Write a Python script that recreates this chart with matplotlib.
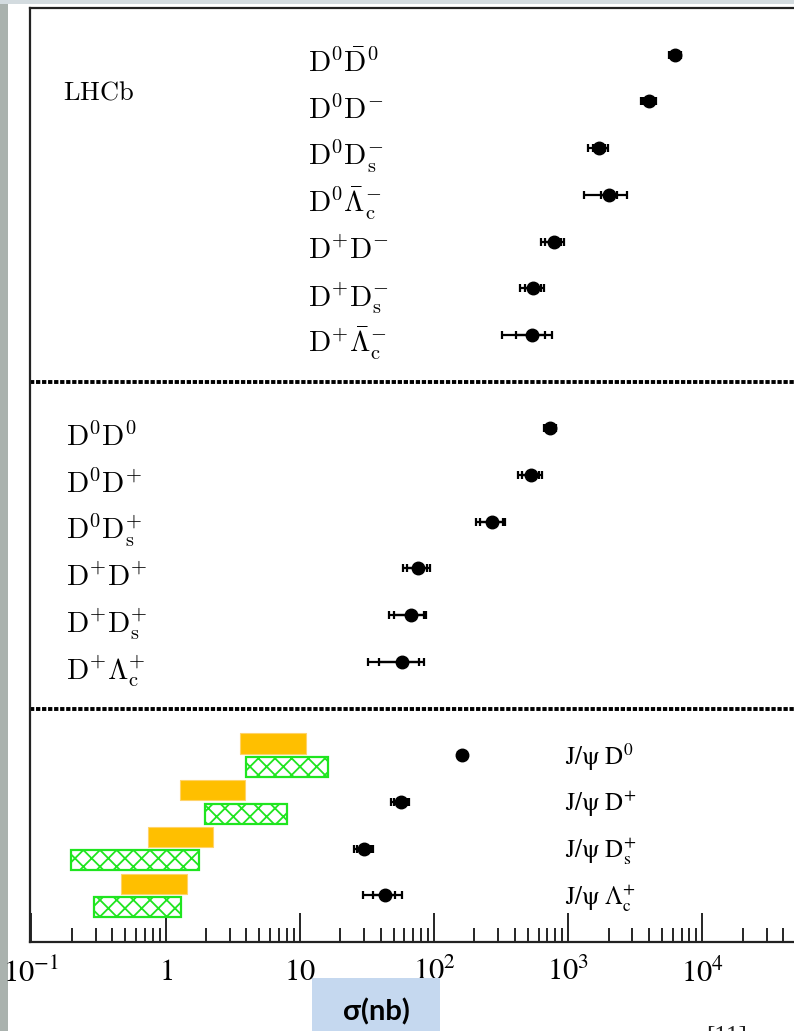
import numpy as np
import matplotlib
matplotlib.use("Agg")
import matplotlib.pyplot as plt
from matplotlib.patches import Rectangle
from matplotlib.ticker import LogLocator, NullFormatter
from matplotlib.transforms import blended_transform_factory

plt.rcParams['mathtext.fontset'] = 'stix'
plt.rcParams['hatch.linewidth'] = 1.3

#-----------------------------#
#       Cross sections (nb)   #
#-----------------------------#

# opposite-sign open charm pairs
os_labels = [r'$\mathrm{D^{0}\bar{D}^{0}}$', r'$\mathrm{D^{0}D^{-}}$', r'$\mathrm{D^{0}D_{s}^{-}}$',
             r'$\mathrm{D^{0}\bar{\Lambda}_{c}^{-}}$', r'$\mathrm{D^{+}D^{-}}$', r'$\mathrm{D^{+}D_{s}^{-}}$',
             r'$\mathrm{D^{+}\bar{\Lambda}_{c}^{-}}$']
os_sigma = [6270, 4000, 1700, 2020, 780, 548, 540]
os_err_in = [520, 400, 170, 270, 110, 75, 135]
os_err_tot = [650, 500, 290, 700, 150, 110, 220]

# same-sign open charm pairs
ss_labels = [r'$\mathrm{D^{0}D^{0}}$', r'$\mathrm{D^{0}D^{+}}$', r'$\mathrm{D^{0}D_{s}^{+}}$',
             r'$\mathrm{D^{+}D^{+}}$', r'$\mathrm{D^{+}D_{s}^{+}}$', r'$\mathrm{D^{+}\Lambda_{c}^{+}}$']
ss_sigma = [735, 530, 272, 76, 67, 58]
ss_err_in = [65, 80, 52, 12.7, 16.5, 19]
ss_err_tot = [80, 108, 65, 17.5, 20.5, 26]

# J/psi + open charm
jpsi_labels = [r'$\mathrm{J/\psi\ D^{0}}$', r'$\mathrm{J/\psi\ D^{+}}$',
               r'$\mathrm{J/\psi\ D_{s}^{+}}$', r'$\mathrm{J/\psi\ \Lambda_{c}^{+}}$']
jpsi_sigma = [161.5, 56.4, 30.2, 43.3]
jpsi_err_in = [6, 6, 3.5, 8]
jpsi_err_tot = [12, 8.5, 4.7, 14]

# theory predictions for J/psi + open charm (lower, upper edge)
pred1_lo = [3.60, 1.27, 0.734, 0.462]
pred1_hi = [11.1, 3.92, 2.26, 1.43]
pred2_lo = [3.95, 1.97, 0.196, 0.292]
pred2_hi = [16.1, 8.06, 1.78, 1.29]

tick_vals = [0.1, 1, 10, 100, 1000, 10000]
tick_labels = [r'$10^{-1}$', r'$1$', r'$10$', r'$10^{2}$', r'$10^{3}$', r'$10^{4}$']

#-----------------------------#
#            Plot             #
#-----------------------------#

W, H = 794, 1031
fig = plt.figure(figsize=(W / 100, H / 100), dpi=100)
fig.patch.set_facecolor('white')
ax = fig.add_axes([30 / W, 1 - 942 / H, 1 - 30 / W, (942 - 8) / H])

os_rows = np.arange(1, 8)
ss_rows = np.arange(9, 15)
jpsi_rows = np.arange(16, 20)


def draw_points(rows, sigma, err_in, err_tot):
    ax.errorbar(sigma, rows, xerr=err_tot, fmt='none', ecolor='black',
                elinewidth=1.6, capsize=3.2, capthick=1.6, zorder=3)
    ax.errorbar(sigma, rows, xerr=err_in, fmt='o', color='black', ms=9,
                elinewidth=1.6, capsize=3.2, capthick=1.6, zorder=4)


draw_points(os_rows, os_sigma, os_err_in, os_err_tot)
draw_points(ss_rows, ss_sigma, ss_err_in, ss_err_tot)
draw_points(jpsi_rows, jpsi_sigma, jpsi_err_in, jpsi_err_tot)

# prediction boxes
lo1, hi1 = np.array(pred1_lo), np.array(pred1_hi)
lo2, hi2 = np.array(pred2_lo), np.array(pred2_hi)
ax.barh(jpsi_rows - 0.25, hi1 - lo1, left=lo1, height=0.43,
        color='#ffbf00', edgecolor='#ffd36a', linewidth=0.8, zorder=2)
ax.barh(jpsi_rows + 0.25, hi2 - lo2, left=lo2, height=0.43,
        facecolor='white', edgecolor='#1fe51f', hatch='xx', linewidth=1.6, zorder=2)

# section separators
for ysep in [8, 15]:
    ax.axhline(ysep, color='black', lw=2.8, linestyle=(0, (1.1, 0.45)), zorder=1)

trans = blended_transform_factory(ax.transAxes, ax.transData)
for r, lab in zip(os_rows, os_labels):
    ax.text(0.3643, r + 0.38, lab, transform=trans, fontsize=21,
            math_fontfamily='cm', va='baseline')
for r, lab in zip(ss_rows, ss_labels):
    ax.text(0.0471, r + 0.38, lab, transform=trans, fontsize=21,
            math_fontfamily='cm', va='baseline')
for r, lab in zip(jpsi_rows, jpsi_labels):
    ax.text(0.700, r + 0.2, lab, transform=trans, fontsize=18,
            math_fontfamily='stix', va='baseline')
ax.text(0.0436, 1.955, r'$\mathrm{LHCb}$', transform=trans, fontsize=19,
        math_fontfamily='cm', va='baseline')

ax.set_xscale('log')
ax.set_xlim(10 ** -1.011, 10 ** 4.682)
ax.set_ylim(20, 0)
ax.set_yticks([])
ax.set_xticks(tick_vals)
ax.set_xticklabels(tick_labels, fontsize=22)
ax.xaxis.set_minor_locator(LogLocator(base=10, subs=np.arange(2, 10)))
ax.xaxis.set_minor_formatter(NullFormatter())
ax.tick_params(axis='x', which='major', direction='in', length=21, width=1.2, pad=11)
ax.tick_params(axis='x', which='minor', direction='in', length=10, width=1.2)
for side in ['left', 'top', 'bottom']:
    ax.spines[side].set_linewidth(1.6)
    ax.spines[side].set_color('#222222')
ax.spines['right'].set_visible(False)

# slide background edges
fig.add_artist(Rectangle((0, 0), 8 / W, 1, transform=fig.transFigure,
                         facecolor='#aab2ae', edgecolor='none', zorder=-1))
fig.add_artist(Rectangle((0, 1 - 4 / H), 1, 4 / H, transform=fig.transFigure,
                         facecolor='#d3dbdf', edgecolor='none', zorder=-1))

# axis caption box
fig.add_artist(Rectangle((312 / W, 0), 128 / W, 53 / H, transform=fig.transFigure,
                         facecolor='#c5d8ef', edgecolor='none', zorder=5))
fig.text(376 / W, 1 - 1012 / H, 'σ(nb)', ha='center', va='center', fontsize=21,
         fontweight='bold', family='Lato', zorder=6)

# reference marker running off the slide edge
fig.text(706 / W, 1 - 1026 / H, '[11]', ha='left', va='top', fontsize=18,
         family='Liberation Serif', color='#222222')

fig.savefig('out.png', dpi=100)
